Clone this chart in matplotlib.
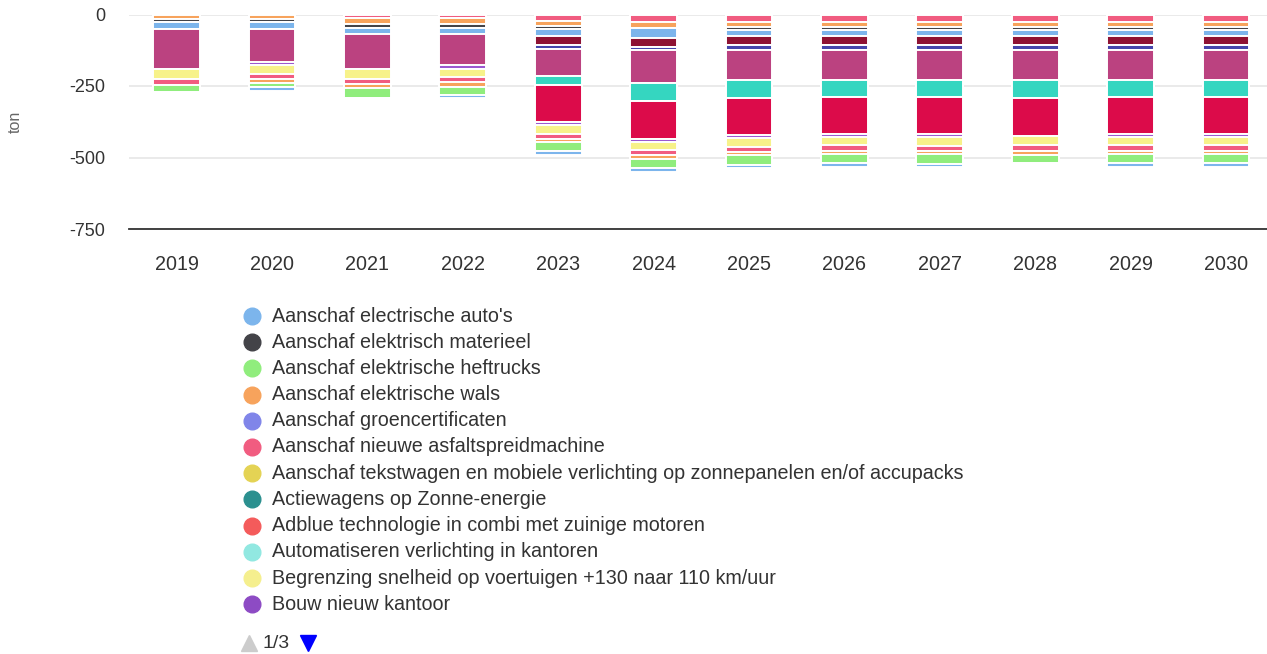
import numpy as np
import matplotlib
matplotlib.use("Agg")
import matplotlib.pyplot as plt
from matplotlib.lines import Line2D

plt.rcParams["font.family"] = ["Liberation Sans", "DejaVu Sans"]

# --- Data (ton, negative = reduction) ---
years = ["2019", "2020", "2021", "2022", "2023", "2024",
         "2025", "2026", "2027", "2028", "2029", "2030"]

# series listed from zero downwards, as they appear in each stack
pink_top = [0, 0, -13, -13, -21, -25, -25, -25, -25, -25, -25, -25]
orange_top = [-14, -14, -19, -19, -19, -22, -18, -18, -18, -18, -18, -18]
dark_top = [-11, -11, -15, -15, -12, 0, -11, -11, -11, -11, -11, -11]
blue_top = [-25, -25, -22, -22, -22, -34, -21, -21, -21, -21, -21, -21]
dark_red = [0, 0, 0, 0, -33, -32, -33, -33, -33, -33, -33, -33]
dark_blue = [0, 0, 0, 0, -13, -11, -15, -15, -15, -15, -15, -15]
magenta = [-141, -116, -121, -108, -94, -115, -105, -105, -105, -105, -105, -105]
turquoise = [0, 0, 0, 0, -33, -64, -64, -59, -60, -65, -59, -59]
crimson = [0, 0, 0, 0, -130, -131, -130, -130, -130, -133, -130, -130]
bouw_kantoor = [0, -12, 0, -12, -11, -12, -11, -11, -11, 0, -11, -11]
begrenzing_snelheid = [-33, -30, -35, -29, -29, -29, -30, -30, -30, -32, -30, -30]
asfaltspreidmachine = [-21, -18, -17, -19, -20, -18, -19, -19, -19, -19, -19, -19]
elektrische_wals = [0, -12, -16, -15, -8, -12, -11, -11, -11, -15, -11, -11]
heftrucks = [-25, -15, -34, -28, -33, -32, -33, -32, -33, -28, -32, -32]
electrische_autos = [0, -14, 0, -12, -13, -12, -12, -13, -11, 0, -13, -13]

stack = [
    (pink_top, "#f15c80"),
    (orange_top, "#f7a35c"),
    (dark_top, "#434348"),
    (blue_top, "#7cb5ec"),
    (dark_red, "#8e1233"),
    (dark_blue, "#4545ab"),
    (magenta, "#bb4280"),
    (turquoise, "#35d6c0"),
    (crimson, "#dc0b4a"),
    (bouw_kantoor, "#9b59d0"),
    (begrenzing_snelheid, "#f7f28a"),
    (asfaltspreidmachine, "#f15c80"),
    (elektrische_wals, "#f7a35c"),
    (heftrucks, "#90ed7d"),
    (electrische_autos, "#7cb5ec"),
]

# legend page 1 of 3
legend_names = [
    "Aanschaf electrische auto's",
    "Aanschaf elektrisch materieel",
    "Aanschaf elektrische heftrucks",
    "Aanschaf elektrische wals",
    "Aanschaf groencertificaten",
    "Aanschaf nieuwe asfaltspreidmachine",
    "Aanschaf tekstwagen en mobiele verlichting op zonnepanelen en/of accupacks",
    "Actiewagens op Zonne-energie",
    "Adblue technologie in combi met zuinige motoren",
    "Automatiseren verlichting in kantoren",
    "Begrenzing snelheid op voertuigen +130 naar 110 km/uur",
    "Bouw nieuw kantoor",
]
legend_colors = [
    "#7cb5ec", "#434348", "#90ed7d", "#f7a35c", "#8085e9", "#f15c80",
    "#e4d354", "#2b908f", "#f45b5b", "#91e8e1", "#f5ef8e", "#8d4bc4",
]

# --- Figure ---
W, H = 1267, 654
fig = plt.figure(figsize=(W / 100, H / 100), dpi=100)
ax = fig.add_axes([129 / W, 1 - 229 / H, (W - 129) / W, (229 - 14.5) / H])

x = np.arange(len(years))
bottom = np.zeros(len(years))
for vals, color in stack:
    vals = np.array(vals, dtype=float)
    ax.bar(x, vals, 0.49, bottom=bottom, color=color,
           edgecolor="white", linewidth=1.4, zorder=3)
    bottom += vals

ax.set_xlim(-0.5, 11.43)
ax.set_ylim(-750, 0)
ax.set_yticks([0, -250, -500, -750])
ax.set_yticklabels(["0", "-250", "-500", "-750"])
ax.set_xticks(x)
ax.set_xticklabels(years)

for s in ["top", "right", "left"]:
    ax.spines[s].set_visible(False)
ax.spines["bottom"].set_color("#333333")
ax.spines["bottom"].set_linewidth(1.3)
ax.grid(axis="y", color="#e6e6e6", linewidth=1.2, zorder=0)
ax.tick_params(axis="both", length=0, colors="#333333")
ax.tick_params(axis="y", pad=17, labelsize=13)
ax.tick_params(axis="x", pad=19, labelsize=14.2)

fig.text(15 / W, 1 - 122 / H, "ton", rotation=90, ha="center", va="center",
         color="#666666", fontsize=11.5)

# --- Legend (manual, paged) ---
row0, dy = 316, 26.2
for i, (name, col) in enumerate(zip(legend_names, legend_colors)):
    yy = 1 - (row0 + i * dy) / H
    fig.add_artist(Line2D([252 / W], [yy], marker="o", markersize=12,
                          color=col, linestyle="none",
                          transform=fig.transFigure))
    fig.text(272 / W, yy, name, ha="left", va="center",
             color="#333333", fontsize=14.2)

ynav = 1 - 643 / H
fig.add_artist(Line2D([249 / W], [ynav], marker="^", markersize=12,
                      color="#cccccc", linestyle="none",
                      transform=fig.transFigure))
fig.text(263 / W, ynav, "1/3", ha="left", va="center",
         color="#333333", fontsize=14)
fig.add_artist(Line2D([308 / W], [ynav], marker="v", markersize=12,
                      color="#0000ff", linestyle="none",
                      transform=fig.transFigure))

fig.savefig("out.png", dpi=100)
